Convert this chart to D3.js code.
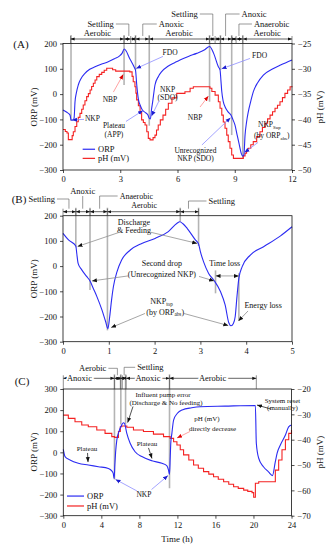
<!DOCTYPE html>
<html>
<head>
<meta charset="utf-8">
<script src="https://cdn.jsdelivr.net/npm/d3@7"></script>
<style>
body { margin: 0; background: #fff; }
svg text { font-family: "Liberation Serif", "Times New Roman", serif; fill: #111; }
</style>
</head>
<body>
<svg id="chart" width="330" height="550"></svg>
<script>
// ---------- data ----------
// (A) ORP and pH over two cycles
var orpA_t = [0, 0.2, 0.37, 0.42, 0.52, 0.58, 0.63, 0.7, 0.8, 0.95, 1.15, 1.4, 1.68, 2.0, 2.37, 2.7, 2.95, 3.1, 3.21, 3.5,
	3.76, 3.8, 3.86, 3.95, 4.05, 4.16, 4.3, 4.45, 4.52, 4.58, 4.64, 4.7, 4.82, 5.0, 5.17, 5.5, 5.87, 6.13, 6.6, 7.0,
	7.4, 7.68, 7.9, 8.14, 8.23, 8.27, 8.32, 8.4, 8.49, 8.65, 8.8, 8.9, 9.01, 9.12, 9.24, 9.34, 9.42, 9.48, 9.54, 9.62,
	9.71, 9.85, 9.97, 10.2, 10.5, 11.0, 11.4, 12];
var orpA_v = [-63, -72, -83, -102, -103, -95, -30, 5, 36, 62, 82, 98, 108, 118, 128, 140, 150, 162, 178, 140,
	102, 95, 40, -20, -45, -63, -72, -83, -96, -98, -60, -30, 36, 70, 89, 110, 125, 135, 150, 161,
	174, 188, 160, 108, 95, 60, 10, -30, -50, -70, -83, -100, -122, -160, -201, -234, -245, -240, -162, -110,
	-70, -25, 9, 45, 75, 100, 115, 135];
var phA_t = [0, 0.12, 0.21, 0.28, 0.48, 0.54, 0.63, 0.72, 0.8, 0.89, 0.98, 1.06, 1.15, 1.24, 1.33, 1.42, 1.5, 1.59, 1.68, 1.77,
	1.9, 2.03, 2.16, 2.29, 2.6, 2.76, 3.5, 3.62, 3.68, 3.77, 3.82, 3.86, 3.95, 4.04, 4.12, 4.21, 4.3, 4.39, 4.47, 4.56,
	4.72, 4.82, 4.9, 4.99, 5.1, 5.24, 5.38, 5.52, 5.71, 5.96, 6.39, 6.66, 6.83, 7.7, 7.8, 7.97, 8.14, 8.23, 8.32, 8.4,
	8.49, 8.58, 8.66, 8.75, 8.84, 8.93, 9.45, 9.54, 9.62, 9.71, 9.84, 9.97, 10.15, 10.32, 10.45, 10.59, 10.72, 10.85, 10.98, 11.11,
	11.24, 11.37, 11.5, 11.63, 11.77, 11.9, 12];
var phA_v = [-42.0, -42.4, -42.7, -44.0, -43.2, -42.45, -41.4, -40.45, -39.6, -38.8, -38.0, -37.15, -36.3, -35.5, -34.9, -34.2, -33.5, -32.85, -32.2, -31.55,
	-31.1, -30.7, -30.3, -29.9, -30.2, -30.45, -30.6, -31.5, -32.55, -33.55, -34.8, -36.15, -37.3, -38.5, -40.1, -40.6, -41.1, -42.45, -43.75, -44.05,
	-43.6, -43.1, -42.1, -41.1, -40.1, -39.15, -38.0, -36.8, -35.75, -34.85, -34.55, -33.85, -33.55, -33.85, -34.5, -35.2, -36.5, -37.8, -39.15, -40.5,
	-41.75, -43.1, -44.4, -45.7, -47.05, -47.7, -47.2, -46.7, -46.2, -45.7, -45.0, -44.4, -43.4, -42.45, -41.6, -40.75, -39.9, -39.15, -38.5, -37.8,
	-37.2, -36.5, -35.7, -34.85, -34.2, -33.55, -33.45];
var phasesA = [0.4, 3.2, 3.55, 3.8, 4.52, 7.68, 7.97, 8.25, 8.84, 9.07, 9.42, 12];
var markA_t = [0.42, 3.2, 3.8, 4.52, 7.68, 8.25, 8.84, 9.42];
var markA_end = [-105, 36, 95, -125, -30, 95, -162, -252];

// (B) ORP, one schematic cycle
var orpB_t = [0, 0.12, 0.28, 0.3, 0.33, 0.41, 0.52, 0.59, 0.66, 0.74, 0.85, 0.93, 0.98, 1.02, 1.06, 1.1, 1.18, 1.28, 1.47, 1.72,
	2.01, 2.3, 2.49, 2.55, 2.62, 2.71, 2.89, 2.96, 3.0, 3.07, 3.18, 3.29, 3.44, 3.54, 3.62, 3.67, 3.72, 3.76, 3.8, 3.84,
	3.91, 4.09, 4.38, 4.75, 5];
var orpB_v = [130, 104, 80, 51, 11, -15, -42, -59, -88, -121, -174, -220, -248, -200, -135, -82, -22, 24, 64, 90,
	110, 137, 170, 176, 168, 150, 104, 88, 57, 17, -29, -55, -102, -154, -225, -237, -228, -200, -118, -48,
	-3, 44, 77, 120, 156];
var phasesB = [0, 0.28, 0.59, 0.97, 2.56, 2.96];
var markB_t = [0.28, 0.59, 0.97, 2.56, 2.96];
var markB_end = [75, -95, -255, 176, 80];

// (C) ORP and pH over 24 h with pump error
var orpC_t = [0, 0.18, 0.7, 1.58, 2.63, 3.69, 4.74, 5.1, 5.25, 5.35, 5.42, 5.5, 5.63, 5.85, 6.15, 6.32, 6.45, 6.68, 7.03, 7.55,
	8.26, 9.32, 10.37, 10.9, 11.06, 11.17, 11.25, 11.3, 11.42, 11.6, 12.0, 12.5, 13.5, 14.4, 17, 20.2, 20.3, 20.55, 21.05, 21.58,
	22.0, 22.3, 22.49, 22.83, 23.36, 23.7, 24];
var orpC_v = [14, -20, -36, -52, -60, -68, -76, -88, -100, -125, -60, 0, 59, 98, 130, 140, 135, 90, 43, 3,
	-20, -40, -52, -64, -83, -105, -20, 40, 90, 153, 185, 201, 211, 216, 219, 222, 43, -28, -68, -92,
	-110, -44, -4, 35, 82, 121, 130];
var phC_t = [0, 0.35, 0.53, 1.23, 1.94, 2.63, 3.52, 4.39, 5.1, 5.38, 5.8, 6.0, 6.15, 6.6, 6.68, 7.38, 8.43, 9.48, 10.54, 11.24,
	11.6, 11.95, 12.3, 12.65, 13.2, 13.7, 14.2, 14.75, 15.3, 15.8, 16.3, 16.86, 17.4, 17.91, 18.4, 18.97, 19.4, 19.85, 20.02, 20.2,
	20.55, 22.13, 22.3, 22.65, 23.0, 23.36, 23.71, 24];
var phC_v = [-30.3, -30.3, -31.6, -32.9, -34.2, -34.9, -36.2, -37.5, -38.8, -39.1, -36.8, -34.9, -34.6, -34.6, -35.1, -36.2, -36.8, -37.8, -38.8, -39.5,
	-40.8, -42.1, -44, -46, -48, -50, -51.3, -52.6, -53.6, -54.6, -55.6, -56.6, -57.6, -58.6, -59.2, -59.9, -60.4, -60.9, -62.7, -57.2,
	-56.6, -56.6, -52, -48, -44, -40, -37.5, -36.2];
var phasesC = [0, 5.38, 6.0, 6.2, 6.6, 11.17, 20.3];
var markC_t = [5.38, 6.05, 6.55, 11.17];
var markC_end = [-128, 132, 132, -170];

// tick values
var ticksA_x = [0, 3, 6, 9, 12];
var ticksB_x = [0, 1, 2, 3, 4, 5];
var ticksC_x = [0, 4, 8, 12, 16, 20, 24];
var ticksAB_orp = [-300, -200, -100, 0, 100, 200];
var ticksA_ph = [-50, -45, -40, -35, -30, -25];
var ticksC_orp = [-300, -200, -100, 0, 100, 200, 300];
var ticksC_ph = [-70, -60, -50, -40, -30, -20];

// ---------- drawing ----------
var svg = d3.select("#chart");
var blue = "#2b2bf2", red = "#f42222";
var blueL = "#8d8dff", redL = "#ff8a8a", grayL = "#8f8f8f";

var xA = d3.scaleLinear().domain([0, 12]).range([63, 292]);
var yA = d3.scaleLinear().domain([-300, 200]).range([170, 43.5]);
var pA = d3.scaleLinear().domain([-50, -25]).range([170, 43.5]);
var xB = d3.scaleLinear().domain([0, 5]).range([63, 292]);
var yB = d3.scaleLinear().domain([-300, 200]).range([341.7, 215.7]);
var xC = d3.scaleLinear().domain([0, 24]).range([63.3, 291.5]);
var yC = d3.scaleLinear().domain([-300, 300]).range([515.7, 389]);
var pC = d3.scaleLinear().domain([-70, -20]).range([515.7, 389]);

var defs = svg.append("defs");
function marker(id, color, size) {
	defs.append("marker").attr("id", id)
		.attr("viewBox", "0 0 10 10").attr("refX", 10).attr("refY", 5)
		.attr("markerUnits", "userSpaceOnUse")
		.attr("markerWidth", size).attr("markerHeight", size)
		.attr("orient", "auto-start-reverse")
		.append("path").attr("d", "M0,1L10,5L0,9z").attr("fill", color);
}
marker("hk", "#111", 5);
marker("hb", "#1c1cd0", 5);
marker("hr", "#e00000", 5);
marker("bar", "#111", 4);

function fixAxis(g) {
	g.attr("font-size", 8.5);
	g.select(".domain").remove();
	g.selectAll(".tick line").attr("stroke", "#000").attr("stroke-width", 0.7);
}

function axes(x, y, xt, yt) {
	svg.append("g").attr("transform", "translate(0," + y.range()[0] + ")")
		.call(d3.axisBottom(x).tickValues(xt).tickFormat(d3.format("d")).tickSize(3).tickSizeOuter(0)).call(fixAxis);
	svg.append("g").attr("transform", "translate(" + x.range()[0] + ",0)")
		.call(d3.axisLeft(y).tickValues(yt).tickSize(3).tickSizeOuter(0)).call(fixAxis);
}

function rightAxis(x, p, pt) {
	svg.append("g").attr("transform", "translate(" + x.range()[1] + ",0)")
		.call(d3.axisRight(p).tickValues(pt).tickSize(3).tickSizeOuter(0)).call(fixAxis);
}

function frame(x, y) {
	svg.append("rect")
		.attr("x", x.range()[0]).attr("y", y.range()[1])
		.attr("width", x.range()[1] - x.range()[0]).attr("height", y.range()[0] - y.range()[1])
		.attr("fill", "none").attr("stroke", "#111").attr("stroke-width", 0.8);
}

function series(x, y, ts, vs, color, curve) {
	svg.append("path").datum(d3.zip(ts, vs))
		.attr("d", d3.line().x(function(d) { return x(d[0]); }).y(function(d) { return y(d[1]); }).curve(curve))
		.attr("fill", "none").attr("stroke", color).attr("stroke-width", 1.1);
}

function note(x, y, s, size, anchor) {
	return svg.append("text").attr("x", x).attr("y", y).attr("dy", "0.35em")
		.attr("font-size", size).attr("text-anchor", anchor || "middle").text(s);
}

// text with a subscript part, e.g. NKP_top
function subNote(x, y, a, sub, b, size, anchor) {
	var t = svg.append("text").attr("x", x).attr("y", y).attr("dy", "0.35em")
		.attr("font-size", size).attr("text-anchor", anchor || "middle");
	t.append("tspan").text(a);
	t.append("tspan").attr("font-size", size * 0.65).attr("dy", 1.5).text(sub);
	if (b) t.append("tspan").attr("dy", -1.5).text(b);
	return t;
}

function arrow(x1, y1, x2, y2, stroke, head) {
	svg.append("line").attr("x1", x1).attr("y1", y1).attr("x2", x2).attr("y2", y2)
		.attr("stroke", stroke).attr("stroke-width", 0.8).attr("marker-end", "url(#" + head + ")");
}

function grayLines(x, y, ts, ends, by) {
	ts.forEach(function(t, i) {
		svg.append("line").attr("x1", x(t)).attr("x2", x(t)).attr("y1", by - 4).attr("y2", y(ends[i]))
			.attr("stroke", "#b4b4b4").attr("stroke-width", 1.6);
	});
}

function phaseBar(x, bounds, by, top) {
	for (var i = 0; i < bounds.length - 1; i++) {
		svg.append("line").attr("x1", x(bounds[i])).attr("x2", x(bounds[i + 1]))
			.attr("y1", by).attr("y2", by)
			.attr("stroke", "#222").attr("stroke-width", 0.7)
			.attr("marker-start", "url(#bar)").attr("marker-end", "url(#bar)");
	}
	bounds.forEach(function(b) {
		svg.append("line").attr("x1", x(b)).attr("x2", x(b)).attr("y1", by - 3).attr("y2", top)
			.attr("stroke", "#444").attr("stroke-width", 0.6);
	});
}

// phase name with an elbow leader down to the bar
function phaseLeader(s, lx, ly, by, side, gap, size) {
	var tx = side == "left" ? lx - gap : lx + gap;
	note(tx, ly, s, size, side == "left" ? "end" : "start");
	var hx = side == "left" ? tx + 2 : tx - 2;
	svg.append("path").attr("d", "M" + hx + "," + ly + "H" + lx + "V" + by)
		.attr("fill", "none").attr("stroke", "#555").attr("stroke-width", 0.6);
}

function legend(x, y, t0, t1, v1, v2, size) {
	[[v1, blue, "ORP"], [v2, red, "pH (mV)"]].forEach(function(d) {
		svg.append("line").attr("x1", x(t0)).attr("x2", x(t1)).attr("y1", y(d[0])).attr("y2", y(d[0]))
			.attr("stroke", d[1]).attr("stroke-width", 1.2);
		note(x(t1) + 3, y(d[0]), d[2], size, "start");
	});
}

function yTitle(x, cy, s, rot) {
	svg.append("text").attr("transform", "translate(" + x + "," + cy + ")rotate(" + rot + ")")
		.attr("text-anchor", "middle").attr("dy", "0.35em").attr("font-size", 9).text(s);
}

// ===== panel A =====
var barA = 39;
grayLines(xA, yA, markA_t, markA_end, barA);
series(xA, pA, phA_t, phA_v, red, d3.curveStepAfter);
series(xA, yA, orpA_t, orpA_v, blue, d3.curveMonotoneX);
axes(xA, yA, ticksA_x, ticksAB_orp);
rightAxis(xA, pA, ticksA_ph);
frame(xA, yA);
phaseBar(xA, phasesA, barA, 43.5);
note(xA(1.8), 33, "Aerobic", 8.5);
note(xA(6.08), 33, "Aerobic", 8.5);
note(xA(10.7), 33, "Aerobic", 8.5);
phaseLeader("Settling", xA(3.45), 24, barA - 3, "left", 15, 8.5);
phaseLeader("Anoxic", xA(4.18), 24, barA - 3, "right", 16, 8.5);
phaseLeader("Settling", xA(7.85), 14, barA - 3, "left", 15, 8.5);
phaseLeader("Anoxic", xA(8.52), 14, barA - 3, "right", 16, 8.5);
phaseLeader("Anaerobic", xA(9.22), 24, barA - 3, "right", 15, 8.5);
note(21, 44, "(A)", 11);
yTitle(34, 107, "ORP (mV)", -90);
yTitle(320, 107, "pH (mV)", -90);

note(xA(1.15), yA(-96), "NKP", 7.5, "start");
arrow(xA(1.1), yA(-100), xA(0.47), yA(-102), blueL, "hb");
note(xA(2.46), yA(-21), "NBP", 7.5);
arrow(xA(2.64), yA(8), xA(3.16), yA(78), redL, "hr");
note(xA(5.61), yA(164), "FDO", 7.5);
arrow(xA(5.24), yA(149), xA(3.83), yA(101), blueL, "hb");
note(xA(2.67), yA(-124), "Plateau", 7.5);
note(xA(2.67), yA(-158), "(APP)", 7.5);
arrow(xA(3.3), yA(-108), xA(4.19), yA(-65), blueL, "hb");
note(xA(5.48), yA(20), "NKP", 7.5);
note(xA(5.48), yA(-12), "(SDO)", 7.5);
arrow(xA(5.03), yA(-27), xA(4.64), yA(-87), blueL, "hb");
note(xA(6.92), yA(-91), "NBP", 7.5);
arrow(xA(7.18), yA(-51), xA(7.62), yA(-8), redL, "hr");
note(xA(10.3), yA(152), "FDO", 7.5);
arrow(xA(9.8), yA(141), xA(8.31), yA(100), blueL, "hb");
note(xA(6.94), yA(-221), "Unrecognized", 7.5);
note(xA(6.94), yA(-254), "NKP (SDO)", 7.5);
arrow(xA(7.28), yA(-201), xA(8.78), yA(-93), blueL, "hb");
subNote(xA(10.22), yA(-121), "NKP", "Sup", null, 7.5, "start");
subNote(xA(10.01), yA(-164), "(by ORP", "abs", ")", 7.5, "start");
arrow(xA(10.22), yA(-191), xA(9.51), yA(-231), blueL, "hb");
legend(xA, yA, 1.03, 1.68, -218, -254, 8.5);

// ===== panel B =====
var barB = 211.7;
grayLines(xB, yB, markB_t, markB_end, barB);
svg.append("line").attr("x1", xB(3.33)).attr("x2", xB(3.33)).attr("y1", yB(-17)).attr("y2", yB(-108))
	.attr("stroke", "#b4b4b4").attr("stroke-width", 1.6);
svg.append("line").attr("x1", xB(3.84)).attr("x2", xB(3.84)).attr("y1", yB(-28)).attr("y2", yB(-215))
	.attr("stroke", "#b4b4b4").attr("stroke-width", 1.6);
series(xB, yB, orpB_t, orpB_v, blue, d3.curveMonotoneX);
axes(xB, yB, ticksB_x, ticksAB_orp);
frame(xB, yB);
phaseBar(xB, phasesB, barB, 215.7);
phaseLeader("Settling", xB(0.13), 199, barB - 3, "left", 14, 8.5);
note(xB(0.43), 191.2, "Anoxic", 8.5);
svg.append("line").attr("x1", xB(0.43)).attr("x2", xB(0.43)).attr("y1", 196).attr("y2", barB - 3)
	.attr("stroke", "#555").attr("stroke-width", 0.6);
phaseLeader("Anaerobic", xB(0.8), 196, barB - 3, "right", 20, 8);
note(xB(1.77), 205.5, "Aerobic", 8);
phaseLeader("Settling", xB(2.74), 201, barB - 3, "right", 20, 8.5);
note(19, 199, "(B)", 11);
yTitle(34, 278.7, "ORP (mV)", -90);

note(xB(1.55), yB(176), "Discharge", 8);
note(xB(1.55), yB(143), "& Feeding", 8);
arrow(xB(1.245), yB(135), xB(0.317), yB(78), grayL, "hk");
arrow(xB(1.9), yB(135), xB(2.93), yB(90), grayL, "hk");
note(xB(2.16), yB(11), "Second drop", 8);
note(xB(2.16), yB(-31), "(Unrecognized NKP)", 8);
arrow(xB(1.42), yB(-39), xB(0.63), yB(-59), grayL, "hk");
arrow(xB(2.97), yB(-41), xB(3.3), yB(-59), grayL, "hk");
note(xB(3.53), yB(13), "Time loss", 8);
svg.append("line").attr("x1", xB(3.33)).attr("x2", xB(3.84)).attr("y1", yB(-39)).attr("y2", yB(-39))
	.attr("stroke", grayL).attr("stroke-width", 0.8)
	.attr("marker-start", "url(#hk)").attr("marker-end", "url(#hk)");
note(xB(4.37), yB(-154), "Energy loss", 8);
arrow(xB(4.04), yB(-178), xB(3.83), yB(-218), grayL, "hk");
subNote(xB(2.15), yB(-140), "NKP", "top", null, 8);
subNote(xB(2.23), yB(-182), "(by ORP", "abs", ")", 8);
arrow(xB(1.79), yB(-188), xB(1.05), yB(-244), grayL, "hk");
arrow(xB(2.64), yB(-188), xB(3.61), yB(-236), grayL, "hk");

// ===== panel C =====
var barC = 378.3;
grayLines(xC, yC, markC_t, markC_end, barC);
series(xC, pC, phC_t, phC_v, red, d3.curveStepAfter);
series(xC, yC, orpC_t, orpC_v, blue, d3.curveMonotoneX);
axes(xC, yC, ticksC_x, ticksC_orp);
rightAxis(xC, pC, ticksC_ph);
frame(xC, yC);
phaseBar(xC, phasesC, barC, 389);
[[1.7, "Anoxic"], [8.9, "Anoxic"], [15.7, "Aerobic"]].forEach(function(d) {
	note(xC(d[0]), barC, d[1], 8.5).attr("stroke", "#fff").attr("stroke-width", 4).attr("paint-order", "stroke");
});
phaseLeader("Aerobic", xC(5.69), 368.3, barC - 3, "left", 11, 8.5);
phaseLeader("Settling", xC(6.4), 367.3, barC - 3, "right", 13, 8.5);
note(22, 381, "(C)", 11);
yTitle(34, 452, "ORP (mV)", -90);
yTitle(320, 452, "pH (mV)", -90);
note(177, 539, "Time (h)", 9);

note(xC(10.49), yC(272), "Influent pump error", 7);
note(xC(10.8), yC(235), "(Discharge & No feeding)", 7);
arrow(xC(7.33), yC(217), xC(6.77), yC(141), "#222", "hk");
note(xC(23.05), yC(245), "System reset", 7);
note(xC(23.05), yC(212), "(manually)", 7);
arrow(xC(21.85), yC(205), xC(20.37), yC(224), "#222", "hk");
note(xC(15.11), yC(158), "pH (mV)", 7);
note(xC(15.7), yC(114), "directly decrease", 7);
arrow(xC(13.33), yC(99), xC(11.96), yC(68), redL, "hr");
note(xC(2.49), yC(16), "Plateau", 7);
arrow(xC(2.55), yC(-3), xC(2.6), yC(-46), "#222", "hk");
note(xC(8.8), yC(40), "Plateau", 7);
arrow(xC(8.96), yC(21), xC(9.33), yC(-29), "#222", "hk");
note(xC(8.48), yC(-197), "NKP", 7.5);
arrow(xC(7.75), yC(-183), xC(5.49), yC(-128), blueL, "hb");
arrow(xC(9.28), yC(-176), xC(11.01), yC(-110), blueL, "hb");
legend(xC, yC, 0.39, 2.18, -207, -254, 8.5);
</script>
</body>
</html>
